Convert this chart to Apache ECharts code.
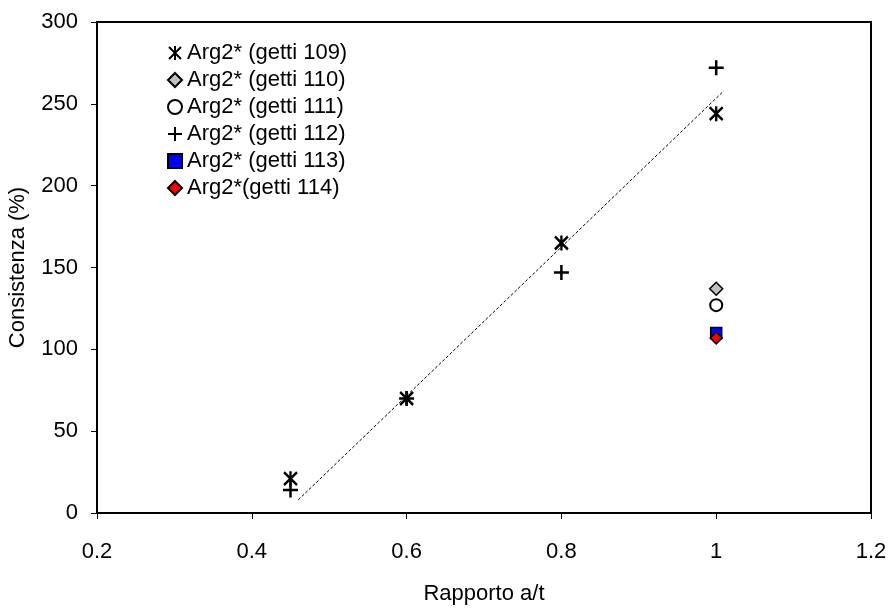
<!DOCTYPE html>
<html>
<head>
<meta charset="utf-8">
<script src="https://cdn.jsdelivr.net/npm/echarts@6/dist/echarts.min.js"></script>
<style>html,body{margin:0;padding:0;background:#fff}#c{width:890px;height:615px}</style>
</head>
<body>
<div id="c"></div>
<script>
// Data
const xTicks = [0.2, 0.4, 0.6, 0.8, 1.0, 1.2];
const yTicks = [0, 50, 100, 150, 200, 250, 300];
const seriesNames = ['Arg2* (getti 109)', 'Arg2* (getti 110)', 'Arg2* (getti 111)', 'Arg2* (getti 112)', 'Arg2* (getti 113)', 'Arg2*(getti 114)'];
const getti109 = [[0.45, 21], [0.6, 70], [0.8, 165], [1.0, 244]];
const getti110 = [[1.0, 137]];
const getti111 = [[1.0, 127]];
const getti112 = [[0.45, 14], [0.6, 70], [0.8, 147], [1.0, 272]];
const getti113 = [[1.0, 110]];
const getti114 = [[1.0, 107]];
const trendLine = [[0.46, 8], [1.01, 258]];

const FONT = '"Liberation Sans", Arial, sans-serif';
const asterisk = 'path://M0,1L12,13M12,1L0,13M6,0L6,14';
const plus = 'path://M7,0L7,14M0,7L14,7';

const chart = echarts.init(document.getElementById('c'), null, {renderer: 'canvas'});
chart.setOption({
  animation: false,
  backgroundColor: '#fff',
  grid: {left: 97, right: 19, top: 22, bottom: 102, show: true, borderColor: '#000', borderWidth: 2,
         containLabel: false, outerBoundsMode: 'none'},
  legend: {
    orient: 'vertical', left: 162, top: 37,
    data: seriesNames,
    itemWidth: 14, itemHeight: 14, itemGap: 5,
    textStyle: {fontFamily: FONT, fontSize: 22, lineHeight: 22, color: '#000', padding: [0, 0, 0, 0]}
  },
  xAxis: {
    type: 'value', min: xTicks[0], max: xTicks[xTicks.length - 1], interval: 0.2,
    name: 'Rapporto a/t', nameLocation: 'middle', nameGap: 70,
    nameTextStyle: {fontFamily: FONT, fontSize: 22, color: '#000'},
    axisLine: {lineStyle: {color: '#000', width: 2}},
    axisTick: {show: true, inside: false, length: 6, lineStyle: {color: '#000'}},
    axisLabel: {fontFamily: FONT, fontSize: 22, color: '#000', margin: 28, formatter: v => String(+v.toFixed(1))},
    splitLine: {show: false}
  },
  yAxis: {
    type: 'value', min: yTicks[0], max: yTicks[yTicks.length - 1], interval: 50,
    name: 'Consistenza (%)', nameLocation: 'middle', nameGap: 68, nameRotate: 90,
    nameTextStyle: {fontFamily: FONT, fontSize: 22, color: '#000'},
    axisLine: {lineStyle: {color: '#000', width: 2}},
    axisTick: {show: true, inside: false, length: 6, lineStyle: {color: '#000'}},
    axisLabel: {fontFamily: FONT, fontSize: 22, color: '#000', margin: 19},
    splitLine: {show: false}
  },
  series: [
    {name: 'trend', type: 'line', data: trendLine, symbol: 'none', silent: true,
     lineStyle: {color: '#000', width: 1, type: [3, 2]}, z: 1},
    {name: seriesNames[0], type: 'scatter', data: getti109, symbol: asterisk, symbolSize: [13, 15],
     itemStyle: {color: 'rgba(0,0,0,0)', borderColor: '#000', borderWidth: 2.5, opacity: 1}, z: 3},
    {name: seriesNames[1], type: 'scatter', data: getti110, symbol: 'diamond', symbolSize: 13,
     itemStyle: {color: '#c0c0c0', borderColor: '#000', borderWidth: 1.5, opacity: 1}, z: 3},
    {name: seriesNames[2], type: 'scatter', data: getti111, symbol: 'circle', symbolSize: 12,
     itemStyle: {color: '#fff', borderColor: '#000', borderWidth: 2, opacity: 1}, z: 3},
    {name: seriesNames[3], type: 'scatter', data: getti112, symbol: plus, symbolSize: 15,
     itemStyle: {color: 'rgba(0,0,0,0)', borderColor: '#000', borderWidth: 2.5, opacity: 1}, z: 3},
    {name: seriesNames[4], type: 'scatter', data: getti113, symbol: 'rect', symbolSize: 11,
     itemStyle: {color: '#0000ff', borderColor: '#000', borderWidth: 1.5, opacity: 1}, z: 3},
    {name: seriesNames[5], type: 'scatter', data: getti114, symbol: 'diamond', symbolSize: 12,
     itemStyle: {color: '#ff0000', borderColor: '#000', borderWidth: 1.5, opacity: 1}, z: 4}
  ]
});
</script>
</body>
</html>
